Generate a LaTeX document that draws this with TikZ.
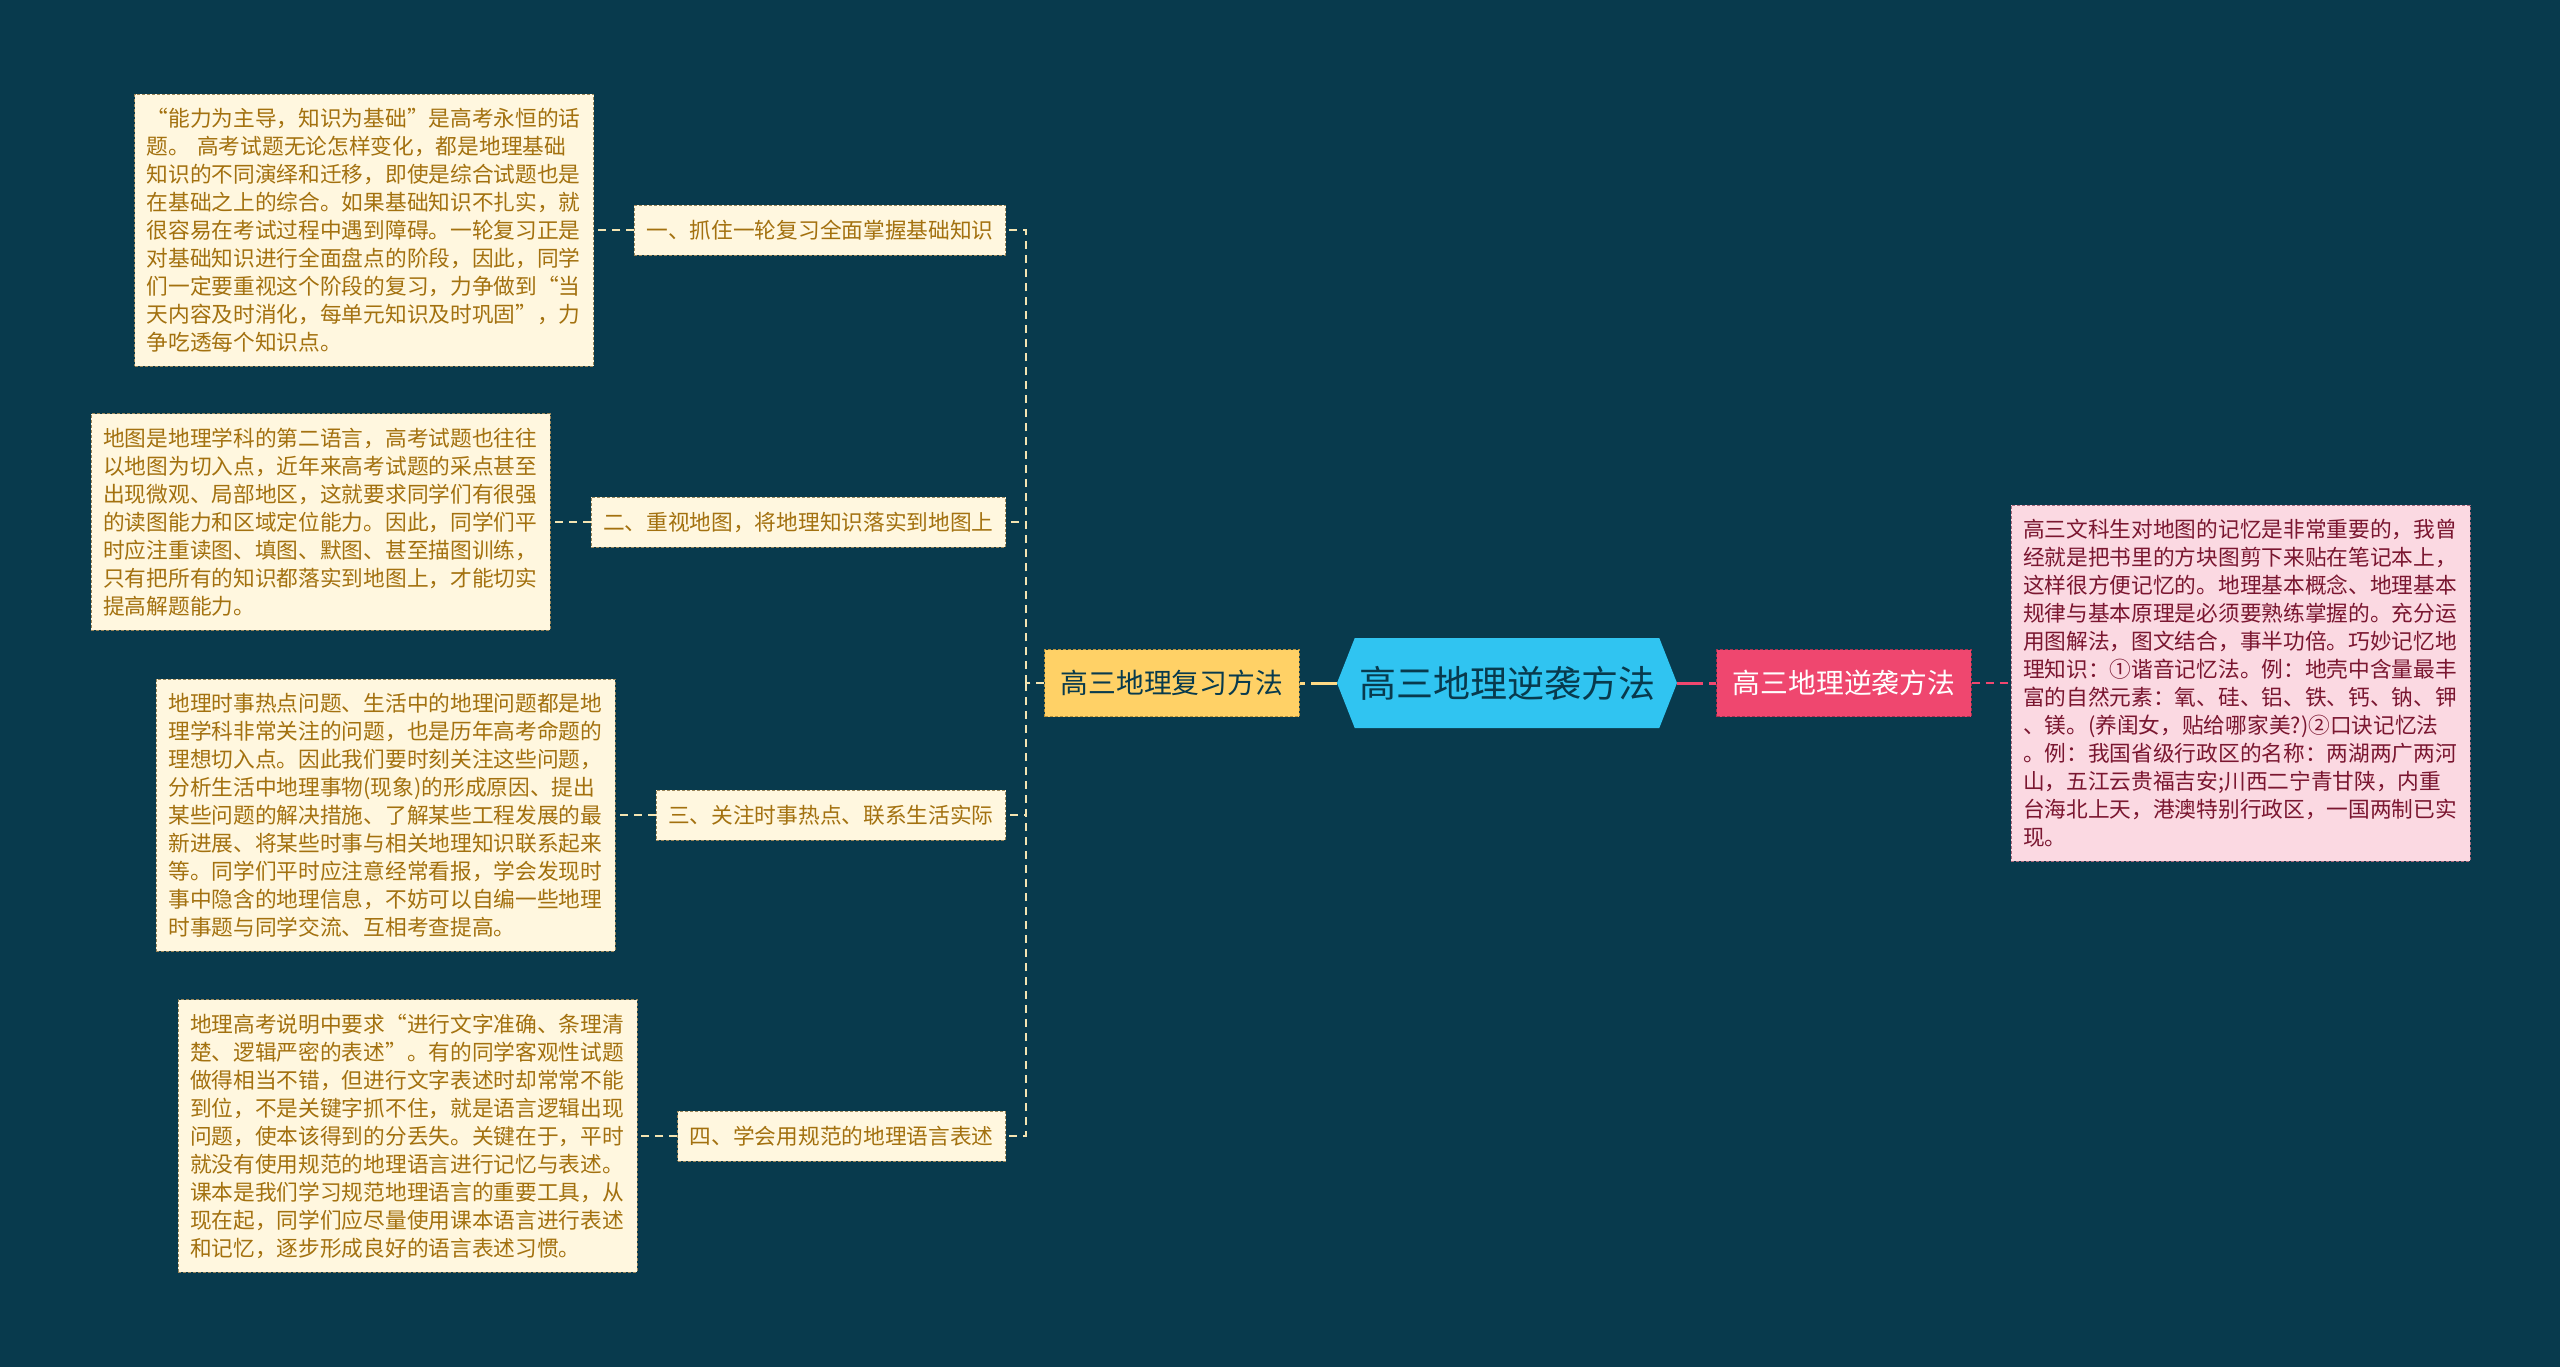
\documentclass[tikz,border=0pt]{standalone}
\usepackage{fontspec}
\setmainfont{Noto Sans CJK SC}
\usepackage{xcolor}
\usetikzlibrary{shapes.symbols, positioning}

\definecolor{bgteal}{HTML}{083A4D}
\definecolor{rootblue}{HTML}{30C4F1}
\definecolor{revyellow}{HTML}{FFD166}
\definecolor{revdark}{HTML}{B8913A}
\definecolor{pinkred}{HTML}{EF476F}
\definecolor{pinkdark}{HTML}{A8304E}
\definecolor{creamfill}{HTML}{FFF7DF}
\definecolor{creamdraw}{HTML}{9A865A}
\definecolor{creamtext}{HTML}{A3710F}
\definecolor{rosefill}{HTML}{FBD9E2}
\definecolor{rosedraw}{HTML}{A86A7C}
\definecolor{rosetext}{HTML}{7A1630}
\definecolor{linkcream}{HTML}{F3E4B2}

\begin{document}
\begin{tikzpicture}[
    x=0.5pt, y=-0.5pt,
    node distance=20pt,
    root/.style={signal, signal to=west and east, signal pointer angle=137, fill=rootblue, text=bgteal, minimum width=170pt, minimum height=45pt, inner xsep=2pt, font=\fontsize{18.5}{22}\selectfont},
    branch/.style={rectangle, draw=revdark, dash pattern=on 1.5pt off 1pt, fill=revyellow, text=bgteal, minimum height=33.5pt, inner xsep=8pt, font=\fontsize{13.9}{16}\selectfont},
    sidebranch/.style={branch, draw=pinkdark, fill=pinkred, text=white},
    topic/.style={rectangle, draw=creamdraw, dash pattern=on 1.5pt off 1pt, fill=creamfill, text=creamtext, minimum height=25pt, inner xsep=6pt, font=\fontsize{10.85}{14}\selectfont},
    note/.style={topic, text width=217.5pt, align=left, inner ysep=7pt},
    pinknote/.style={note, draw=rosedraw, fill=rosefill, text=rosetext},
    link/.style={linkcream, line width=0.6pt, dash pattern=on 4pt off 3pt},
    rootlink/.style={line width=1.5pt, dash pattern=on 13pt off 3pt},
]

% background and page size
\fill[bgteal] (0,0) rectangle (2560,1367);

\node[root] (root) at (1507,683) {高三地理逆袭方法};
\node[branch, left=18.5pt of root] (review) {高三地理复习方法};
\node[sidebranch, right=19.5pt of root] (counter) {高三地理逆袭方法};
\node[pinknote, right=19.5pt of counter] (memo) {高三文科生对地图的记忆是非常重要的，我曾\\经就是把书里的方块图剪下来贴在笔记本上，\\这样很方便记忆的。地理基本概念、地理基本\\规律与基本原理是必须要熟练掌握的。充分运\\用图解法，图文结合，事半功倍。巧妙记忆地\\理知识：①谐音记忆法。例：地壳中含量最丰\\富的自然元素：氧、硅、铝、铁、钙、钠、钾\\、镁。(养闺女，贴给哪家美?)②口诀记忆法\\。例：我国省级行政区的名称：两湖两广两河\\山，五江云贵福吉安;川西二宁青甘陕，内重\\台海北上天，港澳特别行政区，一国两制已实\\现。};

% four review topics
\node[topic, anchor=east] (basics) at (1006,230) {一、抓住一轮复习全面掌握基础知识};
\node[topic, anchor=east] (maps) at (1006,522) {二、重视地图，将地理知识落实到地图上};
\node[topic, anchor=east] (news) at (1006,815) {三、关注时事热点、联系生活实际};
\node[topic, anchor=east] (wording) at (1006,1136) {四、学会用规范的地理语言表述};

\node[note, left=of basics] (basicsnote) {“能力为主导，知识为基础”是高考永恒的话\\题。 高考试题无论怎样变化，都是地理基础\\知识的不同演绎和迁移，即使是综合试题也是\\在基础之上的综合。如果基础知识不扎实，就\\很容易在考试过程中遇到障碍。一轮复习正是\\对基础知识进行全面盘点的阶段，因此，同学\\们一定要重视这个阶段的复习，力争做到“当\\天内容及时消化，每单元知识及时巩固”，力\\争吃透每个知识点。};
\node[note, left=of maps] (mapsnote) {地图是地理学科的第二语言，高考试题也往往\\以地图为切入点，近年来高考试题的采点甚至\\出现微观、局部地区，这就要求同学们有很强\\的读图能力和区域定位能力。因此，同学们平\\时应注重读图、填图、默图、甚至描图训练，\\只有把所有的知识都落实到地图上，才能切实\\提高解题能力。};
\node[note, left=of news] (newsnote) {地理时事热点问题、生活中的地理问题都是地\\理学科非常关注的问题，也是历年高考命题的\\理想切入点。因此我们要时刻关注这些问题，\\分析生活中地理事物(现象)的形成原因、提出\\某些问题的解决措施、了解某些工程发展的最\\新进展、将某些时事与相关地理知识联系起来\\等。同学们平时应注意经常看报，学会发现时\\事中隐含的地理信息，不妨可以自编一些地理\\时事题与同学交流、互相考查提高。};
\node[note, left=of wording] (wordingnote) {地理高考说明中要求“进行文字准确、条理清\\楚、逻辑严密的表述”。有的同学客观性试题\\做得相当不错，但进行文字表述时却常常不能\\到位，不是关键字抓不住，就是语言逻辑出现\\问题，使本该得到的分丢失。关键在于，平时\\就没有使用规范的地理语言进行记忆与表述。\\课本是我们学习规范地理语言的重要工具，从\\现在起，同学们应尽量使用课本语言进行表述\\和记忆，逐步形成良好的语言表述习惯。};

% connectors
\coordinate (bus) at (1026,683);
\draw[rootlink, revyellow!80!white] (root.west) -- (review.east);
\draw[rootlink, pinkred] (root.east) -- (counter.west);
\draw[link, pinkred] (counter.east) -- (memo.west);
\draw[link] (review.west) -- (bus);
\draw[link] (bus) |- (basics.east);
\draw[link] (bus) |- (maps.east);
\draw[link] (bus) |- (news.east);
\draw[link] (bus) |- (wording.east);
\draw[link] (basics.west) -- (basicsnote.east);
\draw[link] (maps.west) -- (mapsnote.east);
\draw[link] (news.west) -- (newsnote.east);
\draw[link] (wording.west) -- (wordingnote.east);

\end{tikzpicture}
\end{document}
